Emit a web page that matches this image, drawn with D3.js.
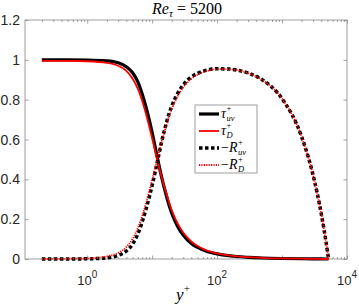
<!DOCTYPE html>
<html><head><meta charset="utf-8">
<script src="https://cdn.jsdelivr.net/npm/d3@7"></script>
<style>body{margin:0;background:#fff}</style>
</head><body>
<script>
// y+ positions (log axis)
const yPlus = [0.2, 0.5, 1, 2, 3, 4, 5, 6, 7, 8, 9, 10, 12, 14, 16, 18, 20, 25, 30, 40, 50, 70, 100, 150, 200, 300, 500, 1000, 2000, 3000, 4000, 5000, 5200];
// viscous stress, tau_uv^+ (black solid)
const tauUV = [1.0, 1.0, 0.999, 0.995, 0.985, 0.965, 0.935, 0.89, 0.83, 0.765, 0.70, 0.635, 0.51, 0.41, 0.335, 0.275, 0.23, 0.16, 0.12, 0.078, 0.058, 0.038, 0.026, 0.017, 0.0125, 0.0085, 0.005, 0.0025, 0.0012, 0.0007, 0.0003, 0.0001, 0];
// tau_D^+ (red solid)
const tauD = [0.995, 0.995, 0.993, 0.985, 0.97, 0.945, 0.905, 0.855, 0.795, 0.73, 0.665, 0.605, 0.495, 0.41, 0.345, 0.29, 0.245, 0.175, 0.133, 0.088, 0.065, 0.042, 0.028, 0.018, 0.013, 0.009, 0.0055, 0.0028, 0.0014, 0.0008, 0.0004, 0.0001, 0];
// -R_uv^+ (black dotted)
const rUV = [0, 0, 0.001, 0.006, 0.018, 0.04, 0.075, 0.125, 0.185, 0.248, 0.31, 0.37, 0.488, 0.59, 0.665, 0.725, 0.768, 0.835, 0.874, 0.914, 0.932, 0.949, 0.955, 0.954, 0.949, 0.934, 0.899, 0.805, 0.614, 0.422, 0.230, 0.038, 0];
// -R_D^+ (red dotted)
const rD = [0, 0.001, 0.003, 0.013, 0.031, 0.06, 0.102, 0.155, 0.215, 0.278, 0.34, 0.398, 0.503, 0.59, 0.655, 0.71, 0.753, 0.82, 0.861, 0.904, 0.925, 0.945, 0.953, 0.953, 0.949, 0.933, 0.898, 0.805, 0.614, 0.422, 0.23, 0.038, 0];

const yTicks = [0, 0.2, 0.4, 0.6, 0.8, 1, 1.2];
const yTickLabels = ['0', '0.2', '0.4', '0.6', '0.8', '1', '1.2'];
const xMajorExps = [0, 2, 4];

const W = 359, H = 305;
const svg = d3.select('body').append('svg')
  .attr('width', W)
  .attr('height', H);

const x = d3.scaleLog().domain([0.11, 1e4]).range([25, 347]);
const y = d3.scaleLinear().domain([0, 1.2]).range([259, 20]);

const axisCol = '#888';
const textCol = '#262626';
const sans = 'Liberation Sans, Arial, sans-serif';
const serif = 'Liberation Serif, DejaVu Serif, serif';

// minor + major log ticks
let xTickVals = [];
for (let e = -1; e <= 3; e++) {
  for (let k = 1; k <= 9; k++) {
    let v = k * Math.pow(10, e);
    if (v >= 0.11 && v <= 1e4) xTickVals.push(v);
  }
}
xTickVals.push(1e4);
let isMajor = v => Math.abs(Math.log10(v) - Math.round(Math.log10(v))) < 1e-9;

function styleAxis(g) {
  g.select('.domain').remove();
  g.selectAll('line').attr('stroke', axisCol).attr('stroke-width', 0.8);
  g.selectAll('text').remove();
}

// bottom/top axes
svg.append('g').attr('transform', 'translate(0,259)')
  .call(d3.axisBottom(x).tickValues(xTickVals).tickSizeInner(-2).tickSizeOuter(0))
  .call(styleAxis)
  .selectAll('.tick line').attr('y2', d => isMajor(d) ? -3.5 : -2);
svg.append('g').attr('transform', 'translate(0,20)')
  .call(d3.axisTop(x).tickValues(xTickVals).tickSizeInner(-2).tickSizeOuter(0))
  .call(styleAxis)
  .selectAll('.tick line').attr('y2', d => isMajor(d) ? 3.5 : 2);

// left/right axes
svg.append('g').attr('transform', 'translate(25,0)')
  .call(d3.axisLeft(y).tickValues(yTicks).tickSizeInner(-3.5).tickSizeOuter(0))
  .call(styleAxis);
svg.append('g').attr('transform', 'translate(347,0)')
  .call(d3.axisRight(y).tickValues(yTicks).tickSizeInner(-3.5).tickSizeOuter(0))
  .call(styleAxis);

// box
svg.append('rect')
  .attr('x', 25).attr('y', 20)
  .attr('width', 322).attr('height', 239)
  .attr('fill', 'none')
  .attr('stroke', axisCol)
  .attr('stroke-width', 0.8);

// y tick labels
svg.selectAll('.ylab')
  .data(yTicks)
  .enter()
  .append('text')
  .attr('class', 'ylab')
  .attr('x', 20)
  .attr('y', d => y(d) + 5)
  .attr('text-anchor', 'end')
  .attr('font-family', sans)
  .attr('font-size', '14px')
  .attr('fill', textCol)
  .text((d, i) => yTickLabels[i]);

// x tick labels 10^n
xMajorExps.forEach(e => {
  let t = svg.append('text')
    .attr('x', x(Math.pow(10, e)))
    .attr('y', 285)
    .attr('text-anchor', 'middle')
    .attr('font-family', sans)
    .attr('font-size', '13px')
    .attr('fill', textCol);
  t.append('tspan').text('10');
  t.append('tspan').attr('dy', -7).attr('font-size', '10px').text(e);
});

// title
let title = svg.append('text')
  .attr('x', 187)
  .attr('y', 14)
  .attr('text-anchor', 'middle')
  .attr('font-family', serif)
  .attr('font-size', '16px')
  .attr('fill', '#000');
title.append('tspan').attr('font-style', 'italic').text('Re');
title.append('tspan').attr('font-style', 'italic').attr('font-size', '11px').attr('dy', 3).text('τ');
title.append('tspan').attr('dy', -3).text(' = 5200');

// x label
let xl = svg.append('text')
  .attr('x', 183)
  .attr('y', 300)
  .attr('text-anchor', 'middle')
  .attr('font-family', serif)
  .attr('font-size', '17px')
  .attr('fill', '#000');
xl.append('tspan').attr('font-style', 'italic').text('y');
xl.append('tspan').attr('font-size', '11px').attr('dy', -8).text('+');

// series
const series = [
  { vals: tauUV, color: '#000', width: 3.2, dash: null },
  { vals: tauD, color: '#f00', width: 1.8, dash: null },
  { vals: rUV, color: '#000', width: 3.5, dash: '3.5,2.5' },
  { vals: rD, color: '#f00', width: 1.8, dash: '1.2,1.2' }
];

let line = d3.line()
  .x(d => x(d[0]))
  .y(d => y(d[1]))
  .curve(d3.curveMonotoneX);

svg.selectAll('.series')
  .data(series)
  .enter()
  .append('path')
  .attr('class', 'series')
  .attr('d', s => line(yPlus.map((v, i) => [v, s.vals[i]])))
  .attr('fill', 'none')
  .attr('stroke', s => s.color)
  .attr('stroke-width', s => s.width)
  .attr('stroke-dasharray', s => s.dash);

// legend
let leg = svg.append('g');
leg.append('rect')
  .attr('x', 195).attr('y', 105)
  .attr('width', 62).attr('height', 68)
  .attr('fill', '#fff')
  .attr('stroke', axisCol)
  .attr('stroke-width', 0.8);

const legRows = [
  { main: 'τ', sub: 'uv', minus: false },
  { main: 'τ', sub: 'D', minus: false },
  { main: 'R', sub: 'uv', minus: true },
  { main: 'R', sub: 'D', minus: true }
];

legRows.forEach((r, i) => {
  let s = series[i];
  let yy = 114 + i * 17;
  leg.append('line')
    .attr('x1', 199).attr('x2', 219)
    .attr('y1', yy).attr('y2', yy)
    .attr('stroke', s.color)
    .attr('stroke-width', s.width)
    .attr('stroke-dasharray', s.dash);
  let t = leg.append('text')
    .attr('x', 221)
    .attr('y', yy + 4)
    .attr('font-family', serif)
    .attr('font-size', '14px')
    .attr('fill', '#000');
  if (r.minus) t.append('tspan').text('−');
  t.append('tspan').attr('font-style', 'italic').text(r.main);
  let x0 = 221 + t.node().getComputedTextLength() + 0.5;
  leg.append('text')
    .attr('x', x0).attr('y', yy + 7)
    .attr('font-family', serif)
    .attr('font-style', 'italic')
    .attr('font-size', '8.5px')
    .text(r.sub);
  leg.append('text')
    .attr('x', x0).attr('y', yy - 3.5)
    .attr('font-family', serif)
    .attr('font-size', '8.5px')
    .text('+');
});
</script>
</body></html>
